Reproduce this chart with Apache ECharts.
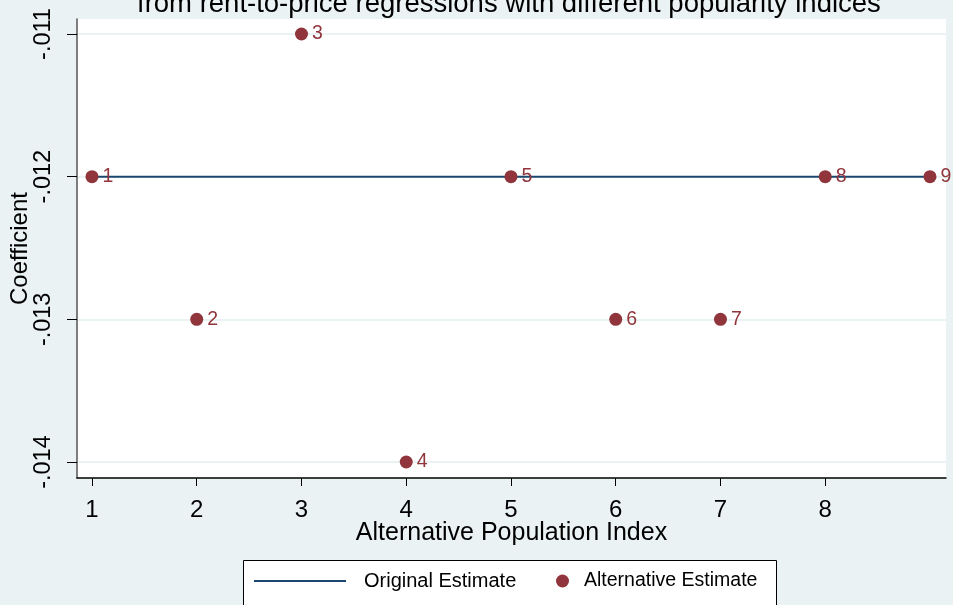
<!DOCTYPE html>
<html><head><meta charset="utf-8">
<script src="https://cdn.jsdelivr.net/npm/echarts@6/dist/echarts.min.js"></script>
<style>html,body{margin:0;padding:0;background:#eaf2f3;}#c{width:953px;height:605px;}</style>
</head><body><div id="c"></div>
<script>
var indexValues = [1, 2, 3, 4, 5, 6, 7, 8, 9];
var alternativeEstimates = [-0.012, -0.013, -0.011, -0.014, -0.012, -0.013, -0.013, -0.012, -0.012];
var originalEstimate = -0.012;
var xTickLabels = [1, 2, 3, 4, 5, 6, 7, 8];
var yTickValues = [-0.014, -0.013, -0.012, -0.011];
var yTickLabels = ['-.014', '-.013', '-.012', '-.011'];

var font = 'Liberation Sans, Arial, sans-serif';
var chart = echarts.init(document.getElementById('c'));
var altData = indexValues.map(function (x, i) { return [x, alternativeEstimates[i]]; });
var origData = [[indexValues[0], originalEstimate], [indexValues[indexValues.length - 1], originalEstimate]];

chart.setOption({
  backgroundColor: '#eaf2f3',
  animation: false,
  title: {
    text: 'from rent-to-price regressions with different popularity indices',
    left: 132, top: -15,
    textStyle: { fontFamily: font, fontSize: 27.5, fontWeight: 'normal', color: '#000' }
  },
  grid: { left: 77, right: 7, top: 19, bottom: 127, show: true, backgroundColor: '#fff', borderWidth: 0,
          containLabel: false, outerBoundsMode: 'none' },
  xAxis: {
    type: 'value', min: 0.857, max: 9.153,
    name: 'Alternative Population Index', nameLocation: 'middle', nameGap: 43, nameMoveOverlap: false,
    nameTextStyle: { fontFamily: font, fontSize: 25, color: '#000' },
    axisLine: { show: true, onZero: false, lineStyle: { color: '#000', width: 1.5 } },
    axisTick: { show: true, length: 8, lineStyle: { color: '#000' }, customValues: xTickLabels },
    axisLabel: { fontFamily: font, fontSize: 24, color: '#000', margin: 20, customValues: xTickLabels },
    splitLine: { show: false }
  },
  yAxis: {
    type: 'value', min: -0.014112, max: -0.010895,
    name: 'Coefficient', nameLocation: 'middle', nameGap: 45, nameMoveOverlap: false,
    nameTextStyle: { fontFamily: font, fontSize: 24, color: '#000' },
    axisLine: { show: true, onZero: false, lineStyle: { color: '#555', width: 1.5 } },
    axisTick: { show: true, length: 10, lineStyle: { color: '#000' }, customValues: yTickValues },
    axisLabel: {
      fontFamily: font, fontSize: 23.5, color: '#000', rotate: 90, margin: 21,
      customValues: yTickValues,
      formatter: function (v) { var i = yTickValues.findIndex(function (t) { return Math.abs(t - v) < 1e-9; }); return i >= 0 ? yTickLabels[i] : ''; }
    },
    splitLine: { show: true, lineStyle: { color: '#eaf2f3', width: 2 } }
  },
  graphic: [{
    type: 'rect', left: 243, top: 560, z: 0,
    shape: { width: 533, height: 60 },
    style: { fill: '#fff', stroke: '#000', lineWidth: 1 }
  }],
  legend: [
    {
      left: 254, top: 571, padding: 0, itemWidth: 92, itemHeight: 14, z: 5,
      textStyle: { fontFamily: font, fontSize: 20, color: '#000', padding: [0, 0, 0, 13] },
      data: [{ name: 'Original Estimate', icon: 'path://M0,6L92,6L92,8L0,8Z' }]
    },
    {
      left: 556, top: 571, padding: 0, itemWidth: 13, itemHeight: 13, z: 5,
      textStyle: { fontFamily: font, fontSize: 19.5, color: '#000', padding: [0, 0, 0, 10] },
      data: [{ name: 'Alternative Estimate', icon: 'circle' }]
    }
  ],
  series: [
    {
      name: 'Original Estimate', type: 'line', data: origData, symbol: 'none',
      lineStyle: { color: '#1a476f', width: 2 }, itemStyle: { color: '#1a476f' }, z: 2
    },
    {
      name: 'Alternative Estimate', type: 'scatter', data: altData, symbolSize: 13,
      itemStyle: { color: '#90353b', opacity: 1 }, z: 3,
      label: {
        show: true, position: 'right', distance: 4, fontFamily: font, fontSize: 19.5, color: '#90353b',
        formatter: function (p) { return String(p.value[0]); }
      }
    }
  ]
});
</script></body></html>
